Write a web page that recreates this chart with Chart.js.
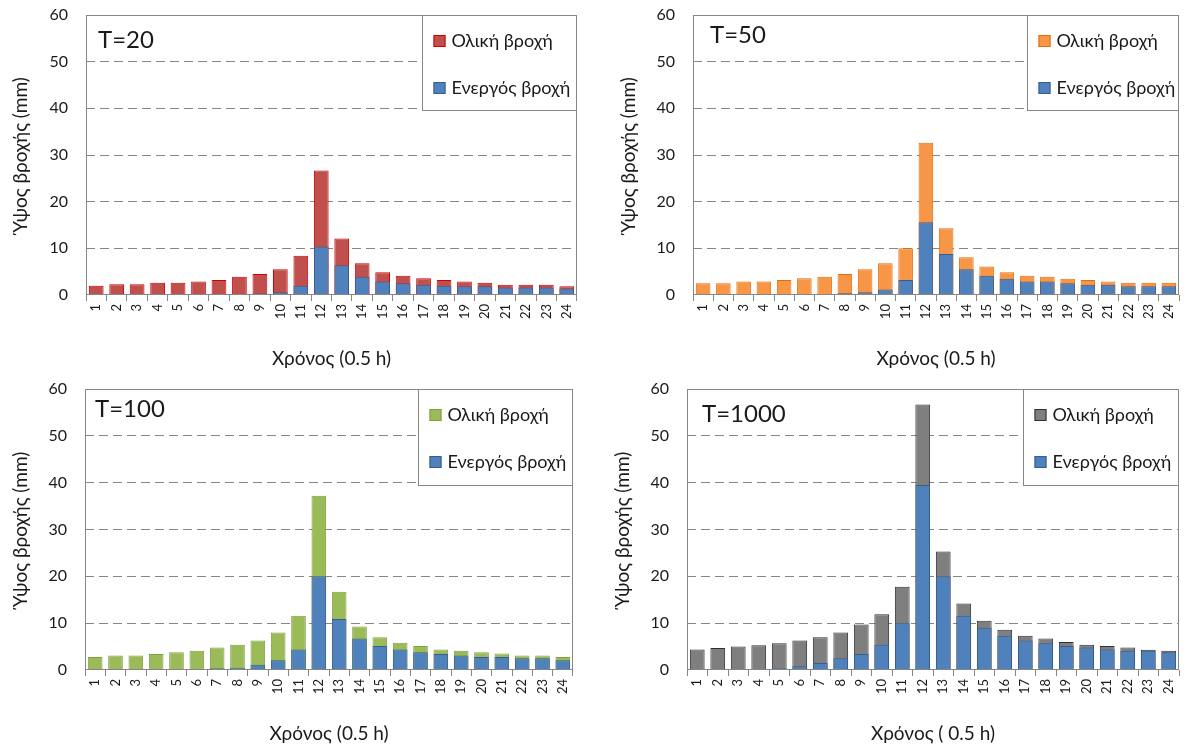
<!DOCTYPE html>
<html>
<head>
<meta charset="utf-8">
<script src="https://cdn.jsdelivr.net/npm/chart.js@4/dist/chart.umd.min.js"></script>
<style>
  html, body { margin: 0; padding: 0; background: #fff; width: 1184px; height: 749px; overflow: hidden; }
  canvas { position: absolute; }
</style>
</head>
<body>
<canvas id="c20" width="592" height="374" style="left:0;top:0"></canvas>
<canvas id="c50" width="584" height="374" style="left:600px;top:0"></canvas>
<canvas id="c100" width="592" height="374" style="left:0;top:375px"></canvas>
<canvas id="c1000" width="584" height="374" style="left:600px;top:375px"></canvas>
<script>
// Time steps (half-hour intervals)
const hours = ['1','2','3','4','5','6','7','8','9','10','11','12',
               '13','14','15','16','17','18','19','20','21','22','23','24'];

const seriesNames = ['Ολική βροχή', 'Ενεργός βροχή'];
const yAxisTitle = 'Ύψος βροχής (mm)';
const panelTitles = ['T=20', 'T=50', 'T=100', 'T=1000'];
const xAxisTitles = ['Χρόνος (0.5 h)', 'Χρόνος (0.5 h)', 'Χρόνος (0.5 h)', 'Χρόνος ( 0.5 h)'];

// Rainfall depth per step (mm), total and effective, for each return period
const total20 = [2.0, 2.3, 2.3, 2.6, 2.6, 2.9, 3.2, 3.9, 4.5, 5.5, 8.4, 26.7, 12.1, 6.8, 4.9, 4.1, 3.6, 3.2, 2.9, 2.6, 2.2, 2.2, 2.2, 1.9];
const eff20   = [0, 0, 0, 0, 0, 0, 0, 0, 0.3, 0.6, 2.0, 10.4, 6.4, 3.9, 2.9, 2.5, 2.2, 2.0, 1.9, 1.9, 1.6, 1.6, 1.6, 1.4];

const total50 = [2.5, 2.5, 2.9, 2.9, 3.2, 3.6, 3.9, 4.5, 5.5, 6.8, 10.0, 32.6, 14.3, 8.1, 6.1, 4.9, 4.1, 3.9, 3.5, 3.2, 2.9, 2.6, 2.6, 2.6];
const eff50   = [0, 0, 0, 0, 0, 0, 0, 0.35, 0.6, 1.2, 3.2, 15.6, 8.8, 5.5, 4.1, 3.5, 2.9, 2.9, 2.5, 2.2, 2.2, 1.9, 1.9, 1.9];

const total100 = [2.8, 3.1, 3.1, 3.4, 3.8, 4.1, 4.8, 5.4, 6.3, 8.0, 11.6, 37.2, 16.7, 9.3, 7.0, 5.8, 5.1, 4.4, 4.1, 3.8, 3.5, 3.1, 3.1, 2.8];
const eff100   = [0, 0, 0, 0, 0, 0, 0.4, 0.5, 1.1, 2.1, 4.4, 20.0, 10.9, 6.7, 5.1, 4.4, 3.8, 3.4, 3.1, 2.8, 2.8, 2.5, 2.5, 2.1];

const total1000 = [4.4, 4.7, 5.0, 5.3, 5.7, 6.3, 7.0, 8.0, 9.7, 11.9, 17.8, 56.7, 25.3, 14.2, 10.5, 8.6, 7.3, 6.7, 6.0, 5.4, 5.1, 4.8, 4.3, 4.1];
const eff1000   = [0, 0, 0, 0, 0.4, 0.8, 1.5, 2.5, 3.4, 5.4, 10.0, 39.5, 20.0, 11.6, 9.0, 7.3, 6.3, 5.7, 5.1, 4.8, 4.4, 4.1, 4.1, 3.8];

// Axis range
const yMin = 0, yMax = 60, yStep = 10;

// Styling and placement of each panel
const FONT = "Lato, 'Open Sans', 'DejaVu Sans', sans-serif";
const TEXT = '#1a1a1a';
const LINE = '#868686';
const effFill = '#4F81BD', effEdge = '#385D8A';

const panels = [
  { id: 'c20',   total: total20,   eff: eff20,   fill: '#C0504D', edge: '#D00000',
    yWidth: 86, padTop: 15, padRight: 15, yTitlePad: 9,  titleDx: 12, titleDy: 33, legendW: 155, legendH: 95 },
  { id: 'c50',   total: total50,   eff: eff50,   fill: '#F79646', edge: '#E46C0A',
    yWidth: 93, padTop: 15, padRight: 5,  yTitlePad: 17, titleDx: 17, titleDy: 28, legendW: 152, legendH: 95 },
  { id: 'c100',  total: total100,  eff: eff100,  fill: '#9BBB59', edge: '#7F9F3F',
    yWidth: 85, padTop: 14, padRight: 19, yTitlePad: 9,  titleDx: 10, titleDy: 28, legendW: 155, legendH: 96 },
  { id: 'c1000', total: total1000, eff: eff1000, fill: '#7F7F7F', edge: '#303030',
    yWidth: 87, padTop: 14, padRight: 5,  yTitlePad: 11, titleDx: 15, titleDy: 33, legendW: 156, legendH: 96 }
];

// Frame around the plot, panel label and the boxed legend inside the plot area
const panelDecor = {
  id: 'panelDecor',
  afterDatasetsDraw(chart, args, opts) {
    const { ctx, chartArea: a } = chart;
    ctx.save();
    ctx.strokeStyle = LINE;
    ctx.lineWidth = 1;
    const l = Math.round(a.left) + 0.5, t = Math.round(a.top) + 0.5;
    const r = Math.round(a.right) - 0.5, b = Math.round(a.bottom) - 0.5;
    ctx.strokeRect(l, t, r - l, b - t);

    // panel label
    ctx.fillStyle = TEXT;
    ctx.font = '24px ' + FONT;
    ctx.textAlign = 'left';
    ctx.textBaseline = 'alphabetic';
    ctx.fillText(opts.title, a.left + opts.titleDx, a.top + opts.titleDy);

    // legend box
    const bx = Math.round(a.right - opts.legendW) + 0.5;
    const by = t;
    ctx.fillStyle = '#fff';
    ctx.fillRect(bx, by, r - bx, opts.legendH);
    ctx.strokeRect(bx, by, r - bx, opts.legendH);
    const rows = [25, 72];
    ctx.font = '18px ' + FONT;
    ctx.textBaseline = 'middle';
    chart.data.datasets.forEach((ds, i) => {
      const cy = by + rows[i];
      ctx.fillStyle = ds.backgroundColor;
      ctx.fillRect(bx + 11, Math.round(cy - 6), 12, 12);
      ctx.strokeStyle = ds.borderColor;
      ctx.strokeRect(bx + 11.5, Math.round(cy - 6) + 0.5, 11, 11);
      ctx.fillStyle = TEXT;
      ctx.fillText(ds.label, bx + 29, cy + 1);
    });
    ctx.restore();
  }
};

Chart.defaults.font.family = FONT;
Chart.defaults.color = TEXT;

panels.forEach((p, k) => {
  new Chart(document.getElementById(p.id), {
    type: 'bar',
    data: {
      labels: hours,
      datasets: [
        { label: seriesNames[0], data: p.total, backgroundColor: p.fill, borderColor: p.edge,
          borderWidth: 1, grouped: false, order: 2 },
        { label: seriesNames[1], data: p.eff, backgroundColor: effFill, borderColor: effEdge,
          borderWidth: 1, grouped: false, order: 1 }
      ]
    },
    options: {
      responsive: false,
      animation: false,
      devicePixelRatio: 1,
      layout: { padding: { left: 0, top: p.padTop, right: p.padRight, bottom: 0 } },
      datasets: { bar: { categoryPercentage: 1, barPercentage: 0.72 } },
      plugins: {
        legend: { display: false },
        tooltip: { enabled: false },
        panelDecor: { title: panelTitles[k], titleDx: p.titleDx, titleDy: p.titleDy,
                      legendW: p.legendW, legendH: p.legendH }
      },
      scales: {
        x: {
          grid: { offset: true, drawOnChartArea: false, drawTicks: true, tickLength: 6, color: LINE },
          border: { display: false },
          ticks: { minRotation: 90, maxRotation: 90, autoSkip: false, padding: 3,
                   font: { size: 13 }, color: TEXT },
          title: { display: true, text: xAxisTitles[k], font: { size: 19 }, color: TEXT,
                   padding: { top: 0, bottom: 4 } },
          afterFit(s) { s.height = 79; s.paddingLeft = 0; s.paddingRight = 0; }
        },
        y: {
          min: yMin, max: yMax,
          ticks: { stepSize: yStep, padding: 18, font: { size: 16 }, color: TEXT },
          grid: {
            drawTicks: false, lineWidth: 1,
            color: (c) => (c.tick && (c.tick.value === yMin || c.tick.value === yMax)) ? 'rgba(0,0,0,0)' : LINE
          },
          border: { display: false, dash: [9, 5] },
          title: { display: true, text: yAxisTitle, font: { size: 19 }, color: TEXT,
                   padding: { top: p.yTitlePad, bottom: 0 } },
          afterFit(s) { s.width = p.yWidth; s.paddingTop = 0; s.paddingBottom = 0; }
        }
      }
    },
    plugins: [panelDecor]
  });
});
</script>
</body>
</html>
